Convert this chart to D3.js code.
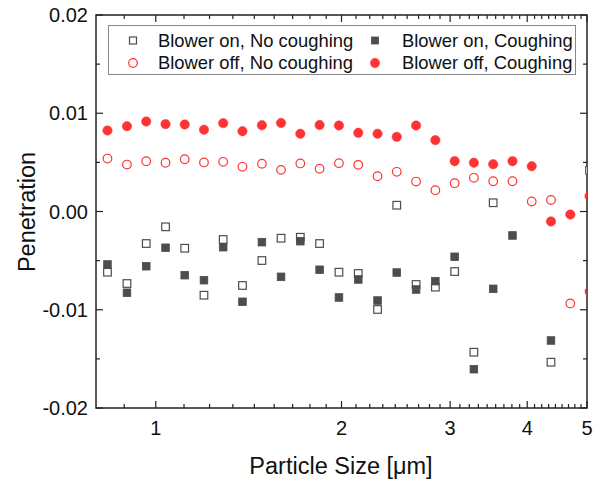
<!DOCTYPE html>
<html>
<head>
<meta charset="utf-8">
<script src="https://cdn.jsdelivr.net/npm/d3@7"></script>
<style>
  body { margin: 0; background: #fff; }
  svg { font-family: "Liberation Sans", Arial, sans-serif; }
</style>
</head>
<body>
<svg id="chart" width="607" height="481"></svg>
<script>
// particle size channels (um)
const sizes = [0.835, 0.898, 0.965, 1.037, 1.114, 1.197, 1.286, 1.382, 1.486, 1.596, 1.715, 1.843, 1.981,
  2.129, 2.288, 2.458, 2.642, 2.839, 3.051, 3.278, 3.523, 3.786, 4.068, 4.371, 4.698, 5.048];

const onNoCough = [-0.00618, -0.00733, -0.00326, -0.00156, -0.00374, -0.00852, -0.00285, -0.00753, -0.00499,
  -0.00272, -0.00262, -0.00326, -0.00618, -0.00631, -0.00997, 0.00064, -0.00743, -0.00770, -0.00611,
  -0.01432, 0.00089, null, null, -0.01534, null, 0.00420];
const onCough = [-0.00539, -0.00827, -0.00557, -0.00369, -0.00648, -0.00699, -0.00363, -0.00919, -0.00312,
  -0.00665, -0.00302, -0.00593, -0.00875, -0.00692, -0.00906, -0.00621, -0.00794, -0.00709, -0.00461,
  -0.01605, -0.00787, -0.00244, null, -0.01313, null, null];
const offNoCough = [0.00539, 0.00478, 0.00512, 0.00496, 0.00532, 0.00499, 0.00506, 0.00455, 0.00486, 0.00424,
  0.00489, 0.00435, 0.00492, 0.00475, 0.00359, 0.00404, 0.00305, 0.00217, 0.00288, 0.00343, 0.00308,
  0.00308, 0.00102, 0.00117, -0.00936, -0.00814];
const offCough = [0.00824, 0.00868, 0.00916, 0.00889, 0.00885, 0.00832, 0.00899, 0.00817, 0.00878, 0.00901,
  0.00791, 0.00880, 0.00875, 0.00801, 0.00791, 0.00760, 0.00875, 0.00726, 0.00512, 0.00496, 0.00481,
  0.00512, 0.00461, -0.00102, -0.00031, 0.00156];

const yTicks = [-0.02, -0.01, 0, 0.01, 0.02];
const yTickLabels = ['-0.02', '-0.01', '0.00', '0.01', '0.02'];
const xTicks = [1, 2, 3, 4, 5];

const red = '#ff3333';
const gray = '#4d4d4d';

const svg = d3.select('#chart');
const pLeft = 96, pRight = 587, pTop = 15, pBottom = 408;

const x = d3.scaleLog().domain([0.8, 5]).range([pLeft, pRight]);
const y = d3.scaleLinear().domain([-0.02, 0.02]).range([pBottom, pTop]);

// minor ticks: 8 per unit interval
const xMinor = [];
for (let k = 0; k < 5; k++) {
  for (let j = 1; j <= 8; j++) {
    const v = k + j / 9;
    if (v >= 0.8 && v <= 5) xMinor.push(v);
  }
}
const yMinor = d3.range(-0.015, 0.02, 0.01);

svg.append('clipPath').attr('id', 'clip')
  .append('rect').attr('x', pLeft).attr('y', pTop).attr('width', pRight - pLeft).attr('height', pBottom - pTop);

const axisColor = '#222';

/** ticks on all four sides, pointing in */
const tickG = svg.append('g').attr('stroke', axisColor).attr('stroke-width', 1.2);
const xt = xTicks.map(v => ({ v, len: 7 })).concat(xMinor.map(v => ({ v, len: 4 })));
xt.forEach(t => {
  tickG.append('line').attr('x1', x(t.v)).attr('x2', x(t.v)).attr('y1', pBottom).attr('y2', pBottom - t.len);
  tickG.append('line').attr('x1', x(t.v)).attr('x2', x(t.v)).attr('y1', pTop).attr('y2', pTop + t.len);
});
const yt = yTicks.map(v => ({ v, len: 7 })).concat(yMinor.map(v => ({ v, len: 4 })));
yt.forEach(t => {
  tickG.append('line').attr('y1', y(t.v)).attr('y2', y(t.v)).attr('x1', pLeft).attr('x2', pLeft + t.len);
  tickG.append('line').attr('y1', y(t.v)).attr('y2', y(t.v)).attr('x1', pRight).attr('x2', pRight - t.len);
});

svg.append('rect')
  .attr('x', pLeft).attr('y', pTop).attr('width', pRight - pLeft).attr('height', pBottom - pTop)
  .attr('fill', 'none').attr('stroke', axisColor).attr('stroke-width', 1.5);

/** tick labels */
svg.append('g').selectAll('text').data(yTicks).enter().append('text')
  .attr('x', pLeft - 8).attr('y', d => y(d)).attr('dy', '0.36em')
  .attr('text-anchor', 'end').attr('font-size', 20).attr('fill', '#111')
  .text((d, i) => yTickLabels[i]);

svg.append('g').selectAll('text').data(xTicks).enter().append('text')
  .attr('x', d => x(d)).attr('y', 435)
  .attr('text-anchor', 'middle').attr('font-size', 20).attr('fill', '#111')
  .text(d => d);

svg.append('text').attr('x', 341).attr('y', 474)
  .attr('text-anchor', 'middle').attr('font-size', 23.5).attr('fill', '#111')
  .text('Particle Size [\u03bcm]');

svg.append('text').attr('transform', `translate(35,212) rotate(-90)`)
  .attr('text-anchor', 'middle').attr('font-size', 23.5).attr('fill', '#111')
  .text('Penetration');

/** data points */
const plot = svg.append('g').attr('clip-path', 'url(#clip)');
const pts = arr => sizes.map((s, i) => ({ s, v: arr[i] })).filter(d => d.v !== null);

const drawSquares = (arr, filled) => {
  plot.append('g').selectAll('rect').data(pts(arr)).enter().append('rect')
    .attr('x', d => x(d.s) - 3.8).attr('y', d => y(d.v) - 3.8)
    .attr('width', 7.6).attr('height', 7.6)
    .attr('fill', filled ? gray : '#fff')
    .attr('stroke', gray).attr('stroke-width', filled ? 0.8 : 1.2);
};
const drawCircles = (arr, filled) => {
  plot.append('g').selectAll('circle').data(pts(arr)).enter().append('circle')
    .attr('cx', d => x(d.s)).attr('cy', d => y(d.v))
    .attr('r', filled ? 4.7 : 4.3)
    .attr('fill', filled ? red : 'none')
    .attr('stroke', red).attr('stroke-width', filled ? 0.5 : 1.2);
};
drawSquares(onNoCough, false);
drawSquares(onCough, true);
drawCircles(offNoCough, false);
drawCircles(offCough, true);

/** legend */
const lg = svg.append('g');
lg.append('rect').attr('x', 108.5).attr('y', 25.5).attr('width', 467).attr('height', 49)
  .attr('fill', '#fff').attr('stroke', '#888').attr('stroke-width', 1);
const legendItems = [
  { label: 'Blower on, No coughing', shape: 'square', filled: false, col: 0, row: 0 },
  { label: 'Blower on, Coughing', shape: 'square', filled: true, col: 1, row: 0 },
  { label: 'Blower off, No coughing', shape: 'circle', filled: false, col: 0, row: 1 },
  { label: 'Blower off, Coughing', shape: 'circle', filled: true, col: 1, row: 1 }
];
legendItems.forEach(it => {
  const mx = it.col === 0 ? 133 : 375;
  const my = it.row === 0 ? 40.5 : 63;
  if (it.shape === 'square') {
    lg.append('rect').attr('x', mx - 3.5).attr('y', my - 3.5).attr('width', 7).attr('height', 7)
      .attr('fill', it.filled ? gray : '#fff').attr('stroke', gray).attr('stroke-width', it.filled ? 0.8 : 1.2);
  } else {
    lg.append('circle').attr('cx', mx).attr('cy', my).attr('r', it.filled ? 4.7 : 4.3)
      .attr('fill', it.filled ? red : 'none').attr('stroke', red).attr('stroke-width', it.filled ? 0.5 : 1.2);
  }
  lg.append('text').attr('x', it.col === 0 ? 158 : 402).attr('y', my).attr('dy', '0.35em')
    .attr('font-size', 18.4).attr('fill', '#111').text(it.label);
});
</script>
</body>
</html>
